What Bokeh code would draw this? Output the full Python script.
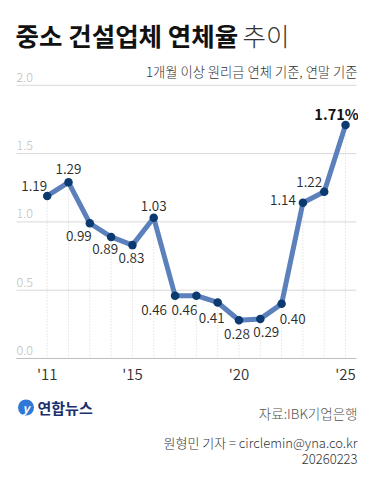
from bokeh.plotting import figure
from bokeh.models import Label
from bokeh.core.properties import value
from bokeh.embed import file_html
from bokeh.resources import INLINE

# ---- data ----
years = [2011, 2012, 2013, 2014, 2015, 2016, 2017, 2018, 2019, 2020, 2021, 2022, 2023, 2024, 2025]
rates = [1.19, 1.29, 0.99, 0.89, 0.83, 1.03, 0.46, 0.46, 0.41, 0.28, 0.29, 0.40, 1.14, 1.22, 1.71]
rate_labels = ["1.19", "1.29", "0.99", "0.89", "0.83", "1.03", "0.46", "0.46", "0.41",
               "0.28", "0.29", "0.40", "1.14", "1.22", "1.71%"]
y_ticks = [0.0, 0.5, 1.0, 1.5, 2.0]
y_tick_labels = ["0.0", "0.5", "1.0", "1.5", "2.0"]
x_ticks = [2011, 2015, 2020, 2025]
x_tick_labels = ["'11", "'15", "'20", "'25"]

# label offsets (pixels, layout only)
lab_dx = [-13, 0, -11, -6, -1, 0, -21, -12, -6, -2, 6, 11, -20, -15, -9]
lab_dy = [-9.5, -13, 13, 12.5, 12.5, -11.5, 14, 14, 16, 13.5, 13.5, 15, -3, -10, -11.5]

FONT = "Noto Sans CJK KR"
LIGHT = "'Noto Sans CJK KR Light', 'Noto Sans CJK KR DemiLight', 'Noto Sans CJK KR'"
DEMI = "'Noto Sans CJK KR DemiLight', 'Noto Sans CJK KR'"
W, H = 358, 484
PX_PER_YEAR = 21.31
PX_PER_UNIT = 136.6
X0_PX = 46.7
Y0_PX = 126

x_start = years[0] - X0_PX / PX_PER_YEAR
x_end = x_start + W / PX_PER_YEAR
y_start = -Y0_PX / PX_PER_UNIT
y_end = y_start + H / PX_PER_UNIT


def cx(px):
    return x_start + px / PX_PER_YEAR


def cy(px_top):
    return y_end - px_top / PX_PER_UNIT


p = figure(width=W, height=H, x_range=(x_start, x_end), y_range=(y_start, y_end),
           output_backend="svg", toolbar_location=None, x_axis_type=None, y_axis_type=None,
           min_border=0, title=None, outline_line_color=None,
           background_fill_color="white", border_fill_color="white")

# horizontal grid
gx0, gx1 = cx(16), cx(356)
p.segment(x0=[gx0] * 4, y0=y_ticks[1:], x1=[gx1] * 4, y1=y_ticks[1:],
          line_color="#d9d9d9", line_width=1)
p.segment(x0=[gx0], y0=[y_ticks[0]], x1=[gx1], y1=[y_ticks[0]],
          line_color="#bfbfbf", line_width=1.2)

# drop lines
p.segment(x0=years, y0=[0] * len(years), x1=years, y1=rates,
          line_color="#d6d6d6", line_width=1, line_dash="1 2")

# line + markers
p.line(years, rates, line_width=5, line_color="#5b80bb", line_join="round")
p.scatter(years, rates, size=8.5, fill_color="#0b3a70", line_color=None)

# value labels
p.text(x=years[:-1], y=rates[:-1], text=rate_labels[:-1], x_offset=lab_dx[:-1], y_offset=lab_dy[:-1],
       text_align="center", text_baseline="middle", text_font=value(DEMI),
       text_font_size="13.5px", text_color="#2a2a2a")
p.text(x=years[-1:], y=rates[-1:], text=rate_labels[-1:], x_offset=lab_dx[-1:], y_offset=lab_dy[-1:],
       text_align="center", text_baseline="middle", text_font=value(FONT),
       text_font_size="14.5px", text_font_style="bold", text_color="#111111")

# y tick labels
p.text(x=[cx(16)] * len(y_ticks), y=y_ticks, text=y_tick_labels, y_offset=-8.5,
       text_align="left", text_baseline="middle", text_font=value(LIGHT),
       text_font_size="12.5px", text_color="#bdbdbd")

# x tick labels
p.text(x=x_ticks, y=[0] * len(x_ticks), text=x_tick_labels, y_offset=15,
       text_align="center", text_baseline="middle", text_font=value(DEMI),
       text_font_size="15px", text_color="#333333")


def lab(txt, x, t, size, color, align="left", style="normal", font=FONT):
    p.add_layout(Label(x=x, y=H - t, x_units="screen", y_units="screen", text=txt,
                       text_font=font, text_font_size=size, text_color=color,
                       text_align=align, text_baseline="middle", text_font_style=style))


lab("중소 건설업체 연체율", 15, 33.5, "25.5px", "#111111", style="bold")
lab("추이", 242, 33.5, "25.5px", "#333333", font=LIGHT)
lab("1개월 이상 원리금 연체 기준, 연말 기준", 357, 71, "13.3px", "#333333", align="right", font=LIGHT)
lab("자료:IBK기업은행", 357, 412, "13.5px", "#555555", align="right", font=LIGHT)
lab("원형민 기자 = circlemin@yna.co.kr", 357, 442, "13px", "#333333", align="right", font=LIGHT)
lab("20260223", 357, 458, "13px", "#333333", align="right", font=LIGHT)

# logo
p.scatter([cx(25.5)], [cy(407)], size=16, fill_color="#2f78d6", line_color=None)
p.text(x=[cx(25.5)], y=[cy(407)], text=["y"], text_align="center", text_baseline="middle",
       text_font=value(FONT), text_font_size="12px", text_font_style="bold italic",
       text_color="white")
lab("연합뉴스", 37, 407, "15px", "#1b2f6e", style="bold")

open("out.html", "w").write(file_html(p, INLINE))
